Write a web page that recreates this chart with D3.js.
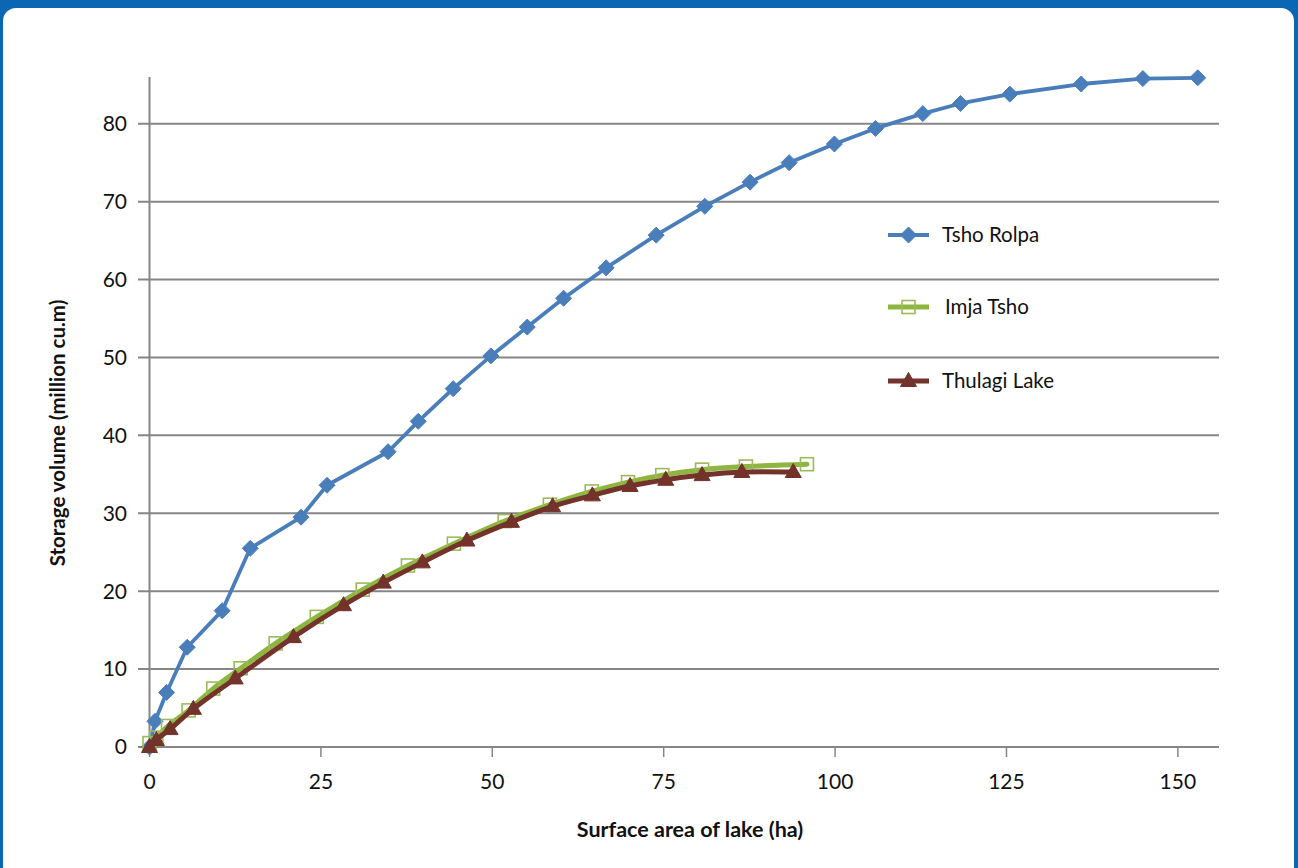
<!DOCTYPE html>
<html>
<head>
<meta charset="utf-8">
<script src="https://cdn.jsdelivr.net/npm/d3@7"></script>
<style>
  html, body { margin: 0; padding: 0; background: #0b66b4; }
  svg { display: block; }
  text { font-family: Lato, "Open Sans", sans-serif; fill: #111; }
</style>
</head>
<body>
<script>
// ---- Data ----
const seriesNames = ["Tsho Rolpa", "Imja Tsho", "Thulagi Lake"];

const tshoRolpaArea   = [0, 0.8, 2.5, 5.5, 10.6, 14.7, 22.1, 25.9, 34.8, 39.2, 44.3, 49.8, 55.1, 60.4, 66.6, 73.9, 81.0, 87.6, 93.3, 99.9, 105.9, 112.8, 118.3, 125.5, 135.9, 144.9, 152.9];
const tshoRolpaVolume = [0, 3.3, 7.0, 12.8, 17.5, 25.5, 29.5, 33.6, 37.9, 41.8, 46.0, 50.2, 53.9, 57.6, 61.5, 65.7, 69.4, 72.5, 75.0, 77.4, 79.4, 81.3, 82.6, 83.8, 85.1, 85.8, 85.9];

const imjaArea   = [0, 1.0, 2.7, 5.7, 9.3, 13.3, 18.4, 24.4, 31.1, 37.7, 44.4, 51.8, 58.4, 64.5, 69.8, 74.8, 80.6, 87.0, 95.9];
const imjaVolume = [0.5, 1.2, 2.7, 4.7, 7.5, 10.1, 13.3, 16.7, 20.2, 23.3, 26.1, 29.0, 31.1, 32.8, 34.0, 34.9, 35.6, 36.0, 36.3];

const thulagiArea   = [0, 1.0, 3.0, 6.4, 12.5, 21.0, 28.3, 34.1, 39.8, 46.3, 52.8, 58.8, 64.6, 70.1, 75.3, 80.6, 86.4, 93.9];
const thulagiVolume = [0, 0.9, 2.3, 4.9, 8.8, 14.1, 18.2, 21.1, 23.7, 26.5, 28.9, 30.9, 32.3, 33.5, 34.3, 34.9, 35.3, 35.3];

const xTicks = [0, 25, 50, 75, 100, 125, 150];
const yTicks = [0, 10, 20, 30, 40, 50, 60, 70, 80];
const xTitle = "Surface area of lake (ha)";
const yTitle = "Storage volume (million cu.m)";

// ---- Layout ----
const W = 1298, H = 868;
const svg = d3.select("body").append("svg").attr("width", W).attr("height", H);

svg.append("rect").attr("width", W).attr("height", H).attr("fill", "#0b66b4");
svg.append("rect").attr("x", 3).attr("y", 8).attr("width", 1291).attr("height", 900)
  .attr("rx", 13).attr("fill", "#ffffff");

const x = d3.scaleLinear().domain([0, 156]).range([149.5, 1219]);
const y = d3.scaleLinear().domain([0, 86]).range([747, 77]);

const gridColor = "#868686";

// horizontal gridlines (with left tick extension)
svg.append("g").selectAll("line").data(yTicks).join("line")
  .attr("x1", 138).attr("x2", x.range()[1])
  .attr("y1", d => y(d)).attr("y2", d => y(d))
  .attr("stroke", gridColor).attr("stroke-width", 2);

// y axis line
svg.append("line").attr("x1", x(0)).attr("x2", x(0))
  .attr("y1", y.range()[1]).attr("y2", y(0) + 1)
  .attr("stroke", gridColor).attr("stroke-width", 2);

// x ticks
svg.append("g").selectAll("line").data(xTicks).join("line")
  .attr("x1", d => x(d)).attr("x2", d => x(d))
  .attr("y1", y(0)).attr("y2", y(0) + 10)
  .attr("stroke", gridColor).attr("stroke-width", 1.5);

// y tick labels
svg.append("g").selectAll("text").data(yTicks).join("text")
  .attr("x", 127).attr("y", d => y(d)).attr("dy", "0.35em")
  .attr("text-anchor", "end").attr("font-size", 21).text(d => d);

// x tick labels
svg.append("g").selectAll("text").data(xTicks).join("text")
  .attr("x", d => x(d)).attr("y", 782).attr("dy", "0.35em")
  .attr("text-anchor", "middle").attr("font-size", 21).text(d => d);

// axis titles
svg.append("text").attr("x", 690).attr("y", 829).attr("dy", "0.35em")
  .attr("text-anchor", "middle").attr("font-size", 21.5).attr("font-weight", "bold").text(xTitle);
svg.append("text").attr("transform", "translate(58,433) rotate(-90)").attr("dy", "0.35em")
  .attr("text-anchor", "middle").attr("font-size", 20.5).attr("font-weight", "bold").text(yTitle);

// ---- Series ----
const series = [
  { name: seriesNames[0], xs: tshoRolpaArea, ys: tshoRolpaVolume, color: "#4a7ebb", width: 3.8, curve: d3.curveLinear, marker: "diamond" },
  { name: seriesNames[1], xs: imjaArea, ys: imjaVolume, color: "#8db53f", width: 5, curve: d3.curveCatmullRom.alpha(0.5), marker: "square" },
  { name: seriesNames[2], xs: thulagiArea, ys: thulagiVolume, color: "#73322a", width: 5, curve: d3.curveCatmullRom.alpha(0.5), marker: "triangle" }
];

function drawMarker(g, type, color) {
  if (type === "diamond") {
    g.append("path").attr("d", "M0,-8L8,0L0,8L-8,0Z")
      .attr("fill", color).attr("stroke", color).attr("stroke-width", 1);
  } else if (type === "square") {
    g.append("rect").attr("x", -6.5).attr("y", -6.5).attr("width", 13).attr("height", 13)
      .attr("fill", "none").attr("stroke", "#9bbb59").attr("stroke-width", 1.6);
  } else {
    g.append("path").attr("d", "M0,-8.5L8,5.5L-8,5.5Z")
      .attr("fill", color).attr("stroke", color).attr("stroke-width", 1);
  }
}

series.forEach(s => {
  const pts = s.xs.map((v, i) => [v, s.ys[i]]);
  const line = d3.line().x(d => x(d[0])).y(d => y(d[1])).curve(s.curve);
  const g = svg.append("g");
  g.append("path").attr("d", line(pts)).attr("fill", "none")
    .attr("stroke", s.color).attr("stroke-width", s.width)
    .attr("stroke-linejoin", "round").attr("stroke-linecap", "round");
  g.selectAll("g.m").data(pts).join("g").attr("class", "m")
    .attr("transform", d => `translate(${x(d[0])},${y(d[1])})`)
    .each(function() { drawMarker(d3.select(this), s.marker, s.color); });
});

// ---- Legend ----
const legendY = [235, 307, 381];
series.forEach((s, i) => {
  const g = svg.append("g").attr("transform", `translate(0,${legendY[i]})`);
  g.append("line").attr("x1", 888).attr("x2", 929).attr("y1", 0).attr("y2", 0)
    .attr("stroke", s.color).attr("stroke-width", s.width);
  const m = g.append("g").attr("transform", "translate(908.5,0)");
  drawMarker(m, s.marker, s.color);
  g.append("text").attr("x", i === 1 ? 945 : 942).attr("y", 0).attr("dy", "0.35em")
    .attr("font-size", 20.5).text(s.name);
});
</script>
</body>
</html>
